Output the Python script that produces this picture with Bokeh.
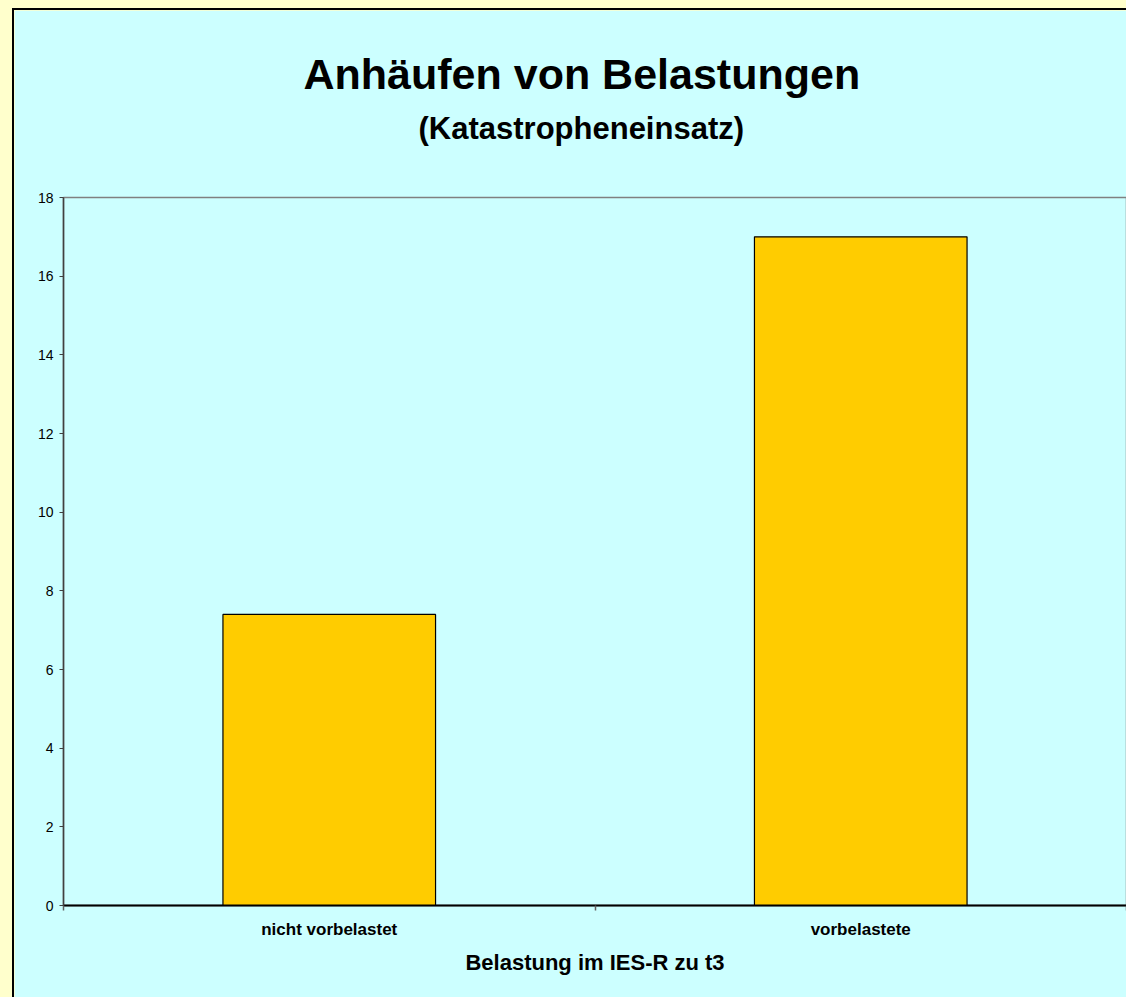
from bokeh.plotting import figure
from bokeh.models import Range1d, FixedTicker, Title, ColumnDataSource
from bokeh.embed import file_html
from bokeh.resources import INLINE

# ---- data ----
categories = ["nicht vorbelastet", "vorbelastete"]
values = [7.4, 17.0]
y_ticks = [0, 2, 4, 6, 8, 10, 12, 14, 16, 18]
title_text = "Anhäufen von Belastungen"
subtitle_text = "(Katastropheneinsatz)"
x_axis_title = "Belastung im IES-R zu t3"

FONT = "Liberation Sans"
CYAN = "#CCFFFF"
YELLOW = "#FFFFCC"
BAR = "#FFCC00"

n = len(categories)
xpos = [i + 0.5 for i in range(n)]
src = ColumnDataSource(dict(x=xpos, top=values, cat=categories))

p = figure(
    width=1114, height=989,
    x_range=Range1d(0, n), y_range=Range1d(0, 18),
    output_backend="svg", toolbar_location=None,
    min_border_left=49, min_border_right=2, min_border_top=187, min_border_bottom=94,
    background_fill_color=CYAN, border_fill_color=CYAN,
)
p.styles = {"border-top": "2px solid black", "border-left": "2px solid black"}
p.outline_line_color = "#808080"
p.outline_line_width = 1.5
p.xgrid.visible = False
p.ygrid.visible = False

p.vbar(x="x", top="top", width=0.4, source=src,
       fill_color=BAR, line_color="black", line_width=1.2)

# titles (first added sits nearest the plot); a blank spacer keeps the gap to the plot
p.add_layout(Title(text=" ", standoff=44, text_font=FONT, text_font_size="1px"), "above")
p.add_layout(Title(text=subtitle_text, align="left", offset=355, standoff=10,
                   text_font=FONT, text_font_size="31px", text_font_style="bold",
                   text_color="black"), "above")
p.add_layout(Title(text=title_text, align="left", offset=240, standoff=11,
                   text_font=FONT, text_font_size="43px", text_font_style="bold",
                   text_color="black"), "above")

# y axis
ya = p.yaxis[0]
ya.ticker = FixedTicker(ticks=y_ticks, minor_ticks=[])
ya.axis_line_color = "#404040"
ya.axis_line_width = 1.5
ya.major_tick_line_color = "#404040"
ya.major_tick_in = 0
ya.major_tick_out = 4
ya.minor_tick_line_color = None
ya.major_label_standoff = 6
ya.major_label_text_font = FONT
ya.major_label_text_font_size = "14px"
ya.major_label_text_color = "black"

# x axis
xa = p.xaxis[0]
xa.ticker = FixedTicker(ticks=xpos, minor_ticks=[float(i) for i in range(n + 1)])
xa.major_label_overrides = {x: c for x, c in zip(xpos, categories)}
xa.axis_line_color = "black"
xa.axis_line_width = 2
xa.major_tick_line_color = None
xa.major_tick_in = 0
xa.major_tick_out = 0
xa.minor_tick_line_color = "#606060"
xa.minor_tick_line_width = 1.5
xa.minor_tick_in = 0
xa.minor_tick_out = 5
xa.major_label_standoff = 9
xa.major_label_text_font = FONT
xa.major_label_text_font_size = "17px"
xa.major_label_text_font_style = "bold"
xa.major_label_text_color = "black"
xa.axis_label = x_axis_title
xa.axis_label_standoff = 8
xa.axis_label_text_font = FONT
xa.axis_label_text_font_size = "22px"
xa.axis_label_text_font_style = "bold"
xa.axis_label_text_color = "black"

html = file_html(p, INLINE, title="Anhäufen von Belastungen")
style = ("<style>html,body{margin:0;padding:0;overflow:hidden;background:%s;}"
         "body{padding:8px 0 0 12px;}</style>" % YELLOW)
html = html.replace("</head>", style + "</head>", 1)
open("out.html", "w").write(html)
